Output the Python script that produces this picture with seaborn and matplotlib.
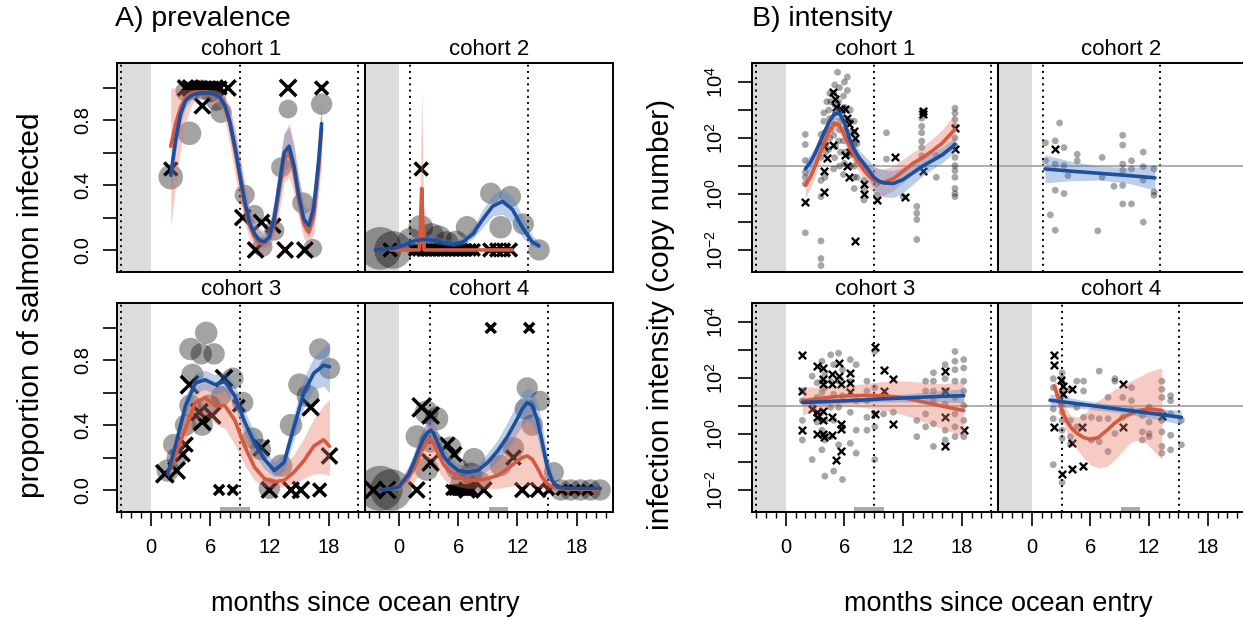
import numpy as np
import pandas as pd
import matplotlib
matplotlib.use("Agg")
import matplotlib.pyplot as plt
from matplotlib.ticker import FixedLocator, NullFormatter
import seaborn as sns

sns.set_theme(style="white")
plt.rcParams["font.family"] = ["Liberation Sans", "DejaVu Sans"]
plt.rcParams["mathtext.default"] = "regular"
for key in ("text.color", "axes.labelcolor", "xtick.color", "ytick.color", "axes.edgecolor"):
    plt.rcParams[key] = "black"

BLUE = "#1c4f9e"
RED = "#d65a3f"
BLUE_FILL = "#4f7fc6"
RED_FILL = "#e57865"

# ---------------------------------------------------------------- prevalence
# cohort 1 : field samples (circles, n = fish sampled) and lab samples (crosses)
prev_c1_fx = [2.0, 3.9, 3.5, 4.3, 5.2, 6.0, 6.6, 7.1, 9.5, 10.5, 11.3, 12.5, 13.2, 13.9, 15.4, 16.4, 17.3]
prev_c1_fy = [0.45, 0.72, 0.98, 0.99, 0.99, 0.97, 0.92, 0.85, 0.34, 0.22, 0.02, 0.12, 0.51, 0.87, 0.29, 0.01, 0.90]
prev_c1_fn = [12, 11, 8, 7, 8, 7, 8, 9, 8, 7, 8, 8, 8, 7, 9, 7, 9]
prev_c1_lx = [2.0, 3.5, 4.0, 4.6, 5.0, 5.4, 5.8, 6.2, 6.6, 7.0, 7.8, 5.2, 9.3, 11.2, 12.4, 10.6, 13.6, 15.6, 13.9, 17.3]
prev_c1_ly = [0.50, 1.0, 1.0, 1.0, 1.0, 1.0, 1.0, 1.0, 1.0, 1.0, 1.0, 0.89, 0.20, 0.17, 0.15, 0.0, 0.0, 0.0, 1.0, 1.0]
prev_c1_ln = [5, 7, 7, 5, 5, 5, 5, 5, 5, 5, 7, 7, 7, 7, 6, 7, 7, 7, 8, 5]
prev_c1_t = [2.0, 2.5, 3.0, 3.5, 4.0, 4.5, 5.0, 5.5, 6.0, 6.5, 7.0, 7.5, 8.0, 8.5, 9.0, 9.5,
             10.0, 10.5, 11.0, 11.5, 12.0, 12.5, 13.0, 13.5, 14.0, 14.5, 15.0, 15.5, 16.0, 16.5, 17.0, 17.3]
prev_c1_blue = [0.46, 0.68, 0.84, 0.92, 0.95, 0.965, 0.97, 0.97, 0.97, 0.96, 0.94, 0.89, 0.79, 0.64, 0.47, 0.30,
                0.17, 0.10, 0.06, 0.05, 0.08, 0.20, 0.40, 0.60, 0.64, 0.52, 0.33, 0.19, 0.15, 0.26, 0.55, 0.78]
prev_c1_blue_lo = [0.36, 0.60, 0.78, 0.88, 0.92, 0.94, 0.95, 0.95, 0.95, 0.94, 0.91, 0.85, 0.72, 0.56, 0.39, 0.23,
                   0.11, 0.05, 0.02, 0.015, 0.03, 0.12, 0.30, 0.48, 0.53, 0.42, 0.24, 0.12, 0.08, 0.16, 0.42, 0.65]
prev_c1_blue_hi = [0.57, 0.76, 0.89, 0.95, 0.975, 0.985, 0.99, 0.99, 0.99, 0.98, 0.97, 0.93, 0.86, 0.72, 0.56, 0.38,
                   0.25, 0.17, 0.12, 0.10, 0.15, 0.30, 0.52, 0.72, 0.76, 0.63, 0.43, 0.28, 0.24, 0.38, 0.68, 0.90]
prev_c1_red = [0.64, 0.78, 0.88, 0.94, 0.965, 0.975, 0.975, 0.975, 0.97, 0.96, 0.94, 0.89, 0.78, 0.62, 0.45, 0.28,
               0.15, 0.08, 0.045, 0.04, 0.07, 0.18, 0.37, 0.56, 0.60, 0.49, 0.30, 0.16, 0.11, 0.21, 0.50, 0.75]
prev_c1_red_lo = [0.14, 0.40, 0.62, 0.78, 0.88, 0.93, 0.94, 0.94, 0.93, 0.91, 0.88, 0.80, 0.65, 0.47, 0.31, 0.17,
                  0.07, 0.02, 0.0, 0.0, 0.01, 0.08, 0.24, 0.42, 0.45, 0.35, 0.19, 0.07, 0.03, 0.10, 0.35, 0.55]
prev_c1_red_hi = [1.0, 1.0, 0.99, 0.99, 0.99, 0.99, 0.99, 0.99, 0.99, 0.99, 0.98, 0.95, 0.88, 0.76, 0.60, 0.42,
                  0.27, 0.18, 0.13, 0.12, 0.16, 0.30, 0.52, 0.72, 0.78, 0.66, 0.45, 0.30, 0.26, 0.36, 0.70, 0.92]

# cohort 2
prev_c2_fx = [-1.9, -0.6, 1.1, 2.2, 3.3, 4.0, 4.8, 5.8, 6.9, 9.3, 10.3, 11.3, 12.6, 14.2]
prev_c2_fy = [0.01, 0.0, 0.06, 0.14, 0.09, 0.07, 0.04, 0.05, 0.14, 0.35, 0.14, 0.33, 0.16, 0.0]
prev_c2_fn = [36, 28, 12, 12, 12, 14, 12, 10, 10, 9, 10, 9, 9, 9]
prev_c2_lx = [-0.9, 1.6, 2.0, 2.4, 2.8, 3.2, 3.6, 4.0, 4.4, 4.8, 5.2, 5.6, 6.0, 6.4, 6.8, 7.2, 7.6,
              9.2, 9.9, 10.6, 11.3, 2.25]
prev_c2_ly = [0.0] * 21 + [0.5]
prev_c2_ln = [5, 4, 4, 4, 4, 4, 4, 4, 4, 4, 4, 4, 4, 4, 4, 4, 4, 5, 5, 5, 5, 5]
prev_c2_bt = [-2.4, -1.5, -0.5, 0.5, 1.5, 2.5, 3.5, 4.5, 5.5, 6.5, 7.5, 8.5, 9.5, 10.5, 11.5, 12.5, 13.5, 14.2]
prev_c2_blue = [0.0, 0.005, 0.01, 0.03, 0.055, 0.065, 0.06, 0.045, 0.035, 0.05, 0.10, 0.19, 0.27, 0.30, 0.25,
                0.14, 0.05, 0.025]
prev_c2_blue_lo = [0.0, 0.0, 0.0, 0.01, 0.03, 0.04, 0.04, 0.03, 0.02, 0.03, 0.07, 0.14, 0.21, 0.22, 0.17, 0.08,
                   0.02, 0.01]
prev_c2_blue_hi = [0.01, 0.015, 0.03, 0.06, 0.09, 0.10, 0.09, 0.07, 0.06, 0.08, 0.14, 0.25, 0.34, 0.38, 0.33,
                   0.21, 0.09, 0.05]
prev_c2_rt = [-0.9, 2.05, 2.2, 2.3, 2.4, 2.55, 11.5]
prev_c2_red = [0.0, 0.0, 0.2, 0.38, 0.2, 0.0, 0.0]
prev_c2_red_lo = [0.0, 0.0, 0.0, 0.0, 0.0, 0.0, 0.0]
prev_c2_red_hi = [0.01, 0.01, 0.6, 1.0, 0.6, 0.01, 0.01]

# cohort 3
prev_c3_fx = [1.7, 2.3, 2.6, 3.5, 4.0, 5.6, 6.4, 5.1, 4.2, 4.0, 5.9, 5.2, 7.1, 8.3, 9.3, 10.3, 11.1, 12.0,
              13.2, 14.2, 15.05, 15.9, 17.1, 18.1]
prev_c3_fy = [0.12, 0.28, 0.20, 0.40, 0.87, 0.97, 0.84, 0.84, 0.71, 0.52, 0.52, 0.40, 0.58, 0.69, 0.54, 0.32,
              0.25, 0.01, 0.15, 0.40, 0.65, 0.58, 0.87, 0.75]
prev_c3_fn = [10, 9, 8, 9, 10, 10, 9, 9, 10, 10, 10, 9, 8, 9, 9, 9, 9, 9, 10, 10, 10, 10, 9, 9]
prev_c3_lx = [1.4, 2.6, 3.9, 3.5, 3.2, 4.9, 5.2, 6.2, 7.4, 8.9, 11.2, 12.0, 14.2, 15.2, 17.1, 16.2, 18.1, 6.9, 8.3]
prev_c3_ly = [0.10, 0.12, 0.65, 0.28, 0.22, 0.48, 0.42, 0.46, 0.69, 0.52, 0.26, 0.0, 0.0, 0.0, 0.0, 0.51, 0.21,
              0.0, 0.0]
prev_c3_ln = [9, 8, 9, 6, 6, 8, 8, 8, 8, 4, 7, 7, 7, 8, 5, 8, 7, 3, 3]
prev_c3_t = [1.7, 2.5, 3.5, 4.5, 5.5, 6.5, 7.5, 8.5, 9.5, 10.5, 11.5, 12.5, 13.5, 14.5, 15.5, 16.5, 17.5, 18.1]
prev_c3_blue = [0.10, 0.28, 0.52, 0.66, 0.68, 0.65, 0.67, 0.58, 0.42, 0.29, 0.19, 0.12, 0.17, 0.39, 0.60,
                0.72, 0.77, 0.76]
prev_c3_blue_lo = [0.07, 0.23, 0.46, 0.60, 0.62, 0.59, 0.61, 0.51, 0.35, 0.22, 0.13, 0.08, 0.12, 0.31, 0.51,
                   0.62, 0.64, 0.60]
prev_c3_blue_hi = [0.14, 0.33, 0.58, 0.72, 0.74, 0.71, 0.73, 0.65, 0.49, 0.35, 0.25, 0.17, 0.23, 0.47, 0.69,
                   0.82, 0.88, 0.91]
prev_c3_red = [0.10, 0.22, 0.38, 0.54, 0.57, 0.52, 0.52, 0.43, 0.27, 0.14, 0.07, 0.05, 0.06, 0.11, 0.18, 0.27,
               0.31, 0.27]
prev_c3_red_lo = [0.07, 0.16, 0.29, 0.43, 0.46, 0.41, 0.38, 0.28, 0.15, 0.06, 0.02, 0.01, 0.02, 0.04, 0.07,
                  0.10, 0.10, 0.09]
prev_c3_red_hi = [0.14, 0.29, 0.47, 0.64, 0.67, 0.63, 0.64, 0.57, 0.41, 0.27, 0.17, 0.13, 0.15, 0.22, 0.32,
                  0.44, 0.52, 0.56]

# cohort 4
prev_c4_fx = [-1.9, -0.8, 1.8, 2.8, 3.8, 2.8, 3.2, 5.2, 5.9, 6.5, 7.3, 7.6, 8.2, 10.3, 11.6, 13.0, 12.8, 14.3,
              13.5, 15.7, 16.4, 17.4, 18.4, 19.4, 20.4]
prev_c4_fy = [0.01, 0.0, 0.33, 0.48, 0.44, 0.13, 0.30, 0.26, 0.13, 0.05, 0.10, 0.19, 0.05, 0.15, 0.26, 0.63,
              0.50, 0.55, 0.40, 0.11, 0.0, 0.0, 0.0, 0.0, 0.0]
prev_c4_fn = [40, 34, 10, 11, 11, 11, 10, 10, 10, 12, 10, 10, 9, 9, 9, 9, 9, 8, 9, 8, 9, 9, 9, 9, 9]
prev_c4_lx = [2.3, 3.2, -2.6, -1.2, 1.8, 3.2, 4.9, 5.6, 5.3, 5.6, 5.9, 6.2, 6.5, 6.8, 7.1, 7.4, 6.9, 8.6,
              11.6, 12.5, 14.1, 9.3, 13.2, 15.2, 16.5, 17.8, 19.1]
prev_c4_ly = [0.51, 0.46, 0.0, 0.0, 0.0, 0.17, 0.28, 0.22, 0.0, 0.0, 0.0, 0.0, 0.0, 0.0, 0.0, 0.0, 0.0, 0.0,
              0.20, 0.0, 0.0, 1.0, 1.0, 0.0, 0.0, 0.0, 0.0]
prev_c4_ln = [10, 8, 8, 8, 7, 8, 6, 6, 3, 3, 3, 3, 3, 3, 3, 3, 7, 7, 6, 6, 6, 3, 3, 3, 3, 3, 3]
prev_c4_t = [-1.9, -1.0, 0.0, 1.0, 1.5, 2.0, 2.5, 3.0, 3.2, 3.5, 4.0, 4.5, 5.0, 6.0, 7.0, 8.0, 9.0, 10.0,
             11.0, 12.0, 12.5, 13.0, 13.5, 14.0, 14.5, 15.0, 15.5, 16.0, 17.0, 18.0, 19.0, 20.4]
prev_c4_blue = [0.0, 0.005, 0.02, 0.10, 0.17, 0.25, 0.32, 0.36, 0.37, 0.35, 0.28, 0.21, 0.17, 0.12, 0.11, 0.12,
                0.17, 0.24, 0.33, 0.44, 0.50, 0.54, 0.52, 0.44, 0.30, 0.15, 0.06, 0.02, 0.01, 0.01, 0.01, 0.01]
prev_c4_blue_lo = [0.0, 0.0, 0.01, 0.06, 0.12, 0.19, 0.25, 0.29, 0.30, 0.28, 0.22, 0.16, 0.13, 0.09, 0.08, 0.09,
                   0.12, 0.18, 0.25, 0.35, 0.40, 0.43, 0.41, 0.33, 0.21, 0.09, 0.03, 0.01, 0.0, 0.0, 0.0, 0.0]
prev_c4_blue_hi = [0.01, 0.02, 0.04, 0.15, 0.23, 0.32, 0.39, 0.44, 0.45, 0.43, 0.35, 0.27, 0.22, 0.16, 0.15,
                   0.16, 0.23, 0.31, 0.42, 0.54, 0.60, 0.63, 0.62, 0.55, 0.41, 0.23, 0.11, 0.04, 0.02, 0.02,
                   0.02, 0.02]
prev_c4_red = [0.0, 0.005, 0.02, 0.08, 0.13, 0.20, 0.27, 0.31, 0.31, 0.29, 0.22, 0.16, 0.12, 0.08, 0.06, 0.06,
               0.07, 0.09, 0.13, 0.18, 0.20, 0.21, 0.19, 0.14, 0.08, 0.04, 0.02, 0.01, 0.005, 0.005, 0.005, 0.005]
prev_c4_red_lo = [0.0, 0.0, 0.0, 0.02, 0.05, 0.09, 0.15, 0.19, 0.20, 0.18, 0.12, 0.07, 0.04, 0.02, 0.01, 0.01,
                  0.01, 0.01, 0.02, 0.03, 0.03, 0.03, 0.03, 0.02, 0.01, 0.0, 0.0, 0.0, 0.0, 0.0, 0.0, 0.0]
prev_c4_red_hi = [0.01, 0.02, 0.06, 0.15, 0.22, 0.30, 0.38, 0.42, 0.43, 0.41, 0.34, 0.26, 0.21, 0.16, 0.14,
                  0.15, 0.20, 0.27, 0.35, 0.42, 0.44, 0.44, 0.42, 0.36, 0.25, 0.13, 0.06, 0.03, 0.02, 0.02,
                  0.02, 0.02]

# ----------------------------------------------------------------- intensity
# values are log10(copy number)
int_c1_fx = ([2.0] * 7 + [3.6] * 7 + [3.9, 4.0, 4.1, 3.9, 4.1, 4.0, 4.2] + [4.4, 4.5, 4.6, 4.5, 4.4, 4.6, 4.5]
             + [4.9, 5.0, 5.1, 5.0, 4.9, 5.1, 5.0, 4.9, 5.0, 5.3] + [5.4, 5.5, 5.6, 5.5, 5.4, 5.6, 5.5, 5.5]
             + [5.9, 6.0, 6.1, 6.0, 5.9, 6.1, 6.0, 5.9, 6.0] + [6.3, 6.3] + [6.6] * 6 + [7.0] * 7 + [7.3] * 3
             + [8.0] * 4 + [9.3] * 2 + [10.3] * 2 + [12.0] + [13.4] * 4 + [13.9] * 7 + [15.4] * 2 + [17.3] * 13)
int_c1_fy = ([2.13, 1.77, 1.2, 0.78, 0.6, 0.37, -1.38] + [-1.67, -2.3, -2.55, 2.13, 1.31, 0.49, -0.09]
             + [2.6, 2.2, 1.8, 2.9, 1.5, 0.6, 3.3] + [3.0, 2.7, 2.3, 2.0, 1.6, 3.3, 3.6]
             + [3.6, 3.2, 2.9, 2.5, 2.1, 1.7, 1.3, 0.9, 3.9, 4.35] + [3.3, 3.0, 2.6, 2.3, 1.9, 1.5, 1.0, 3.8]
             + [3.5, 3.1, 2.7, 2.3, 1.9, 1.5, 1.1, 0.7, 4.0] + [4.18, 3.7] + [3.0, 2.6, 2.2, 1.8, 1.4, 1.0]
             + [2.6, 2.2, 1.8, 1.4, 1.0, 0.6, 0.2] + [1.8, 1.2, 0.6] + [0.96, 0.49, 0.2, -0.21] + [0.37, -0.04]
             + [2.19, 1.25] + [-0.09] + [-0.44, -0.68, -0.91, -1.62] + [2.95, 2.71, 2.42, 2.19, 1.89, 1.66, 1.37]
             + [1.37, 0.6] + [3.07, 2.89, 2.66, 2.42, 2.01, 1.72, 1.31, 1.02, 0.84, 0.6, 0.2, 0.02, -0.09])
int_c1_lx = [2.0, 3.9, 3.9, 4.8, 5.0, 5.1, 5.6, 6.1, 6.3, 6.5, 7.0, 7.1, 6.6, 6.1, 6.3, 6.5, 3.9, 4.25, 4.8,
             7.1, 8.0, 8.0, 9.3, 11.2, 12.2, 14.0, 14.0, 14.0, 17.3, 17.3]
int_c1_ly = [-0.27, 1.72, 0.08, 3.65, 3.4, 3.1, 3.05, 3.05, 2.7, 2.5, 2.25, 2.0, 1.5, 1.4, 1.0, 0.6, 0.84, 1.3,
             1.77, -1.67, 0.37, 0.02, -0.21, 1.31, -0.09, 2.95, 2.85, 0.84, 2.36, 1.6]
int_c1_t = [2.0, 2.5, 3.0, 3.5, 4.0, 4.5, 5.0, 5.5, 6.0, 6.5, 7.0, 7.5, 8.0, 8.5, 9.0, 9.5, 10.0, 11.0, 12.0,
            13.0, 14.0, 15.0, 16.0, 17.0, 17.3]
int_c1_blue = [0.90, 1.12, 1.45, 1.85, 2.25, 2.62, 2.87, 2.88, 2.55, 2.0, 1.6, 1.3, 1.08, 0.85, 0.6, 0.47, 0.4,
               0.38, 0.52, 0.76, 1.0, 1.2, 1.4, 1.68, 1.78]
int_c1_blue_lo = [0.55, 0.85, 1.2, 1.62, 2.05, 2.42, 2.67, 2.66, 2.3, 1.75, 1.35, 1.03, 0.78, 0.5, 0.2, 0.0,
                  -0.1, -0.12, 0.05, 0.35, 0.65, 0.9, 1.12, 1.42, 1.5]
int_c1_blue_hi = [1.25, 1.4, 1.7, 2.08, 2.45, 2.82, 3.07, 3.1, 2.8, 2.25, 1.85, 1.57, 1.38, 1.2, 1.0, 0.92, 0.88,
                  0.85, 0.95, 1.15, 1.35, 1.5, 1.68, 1.94, 2.05]
int_c1_red = [0.32, 0.6, 1.0, 1.45, 1.9, 2.3, 2.53, 2.45, 2.1, 1.72, 1.4, 1.1, 0.85, 0.65, 0.5, 0.42, 0.42, 0.55,
              0.82, 1.1, 1.3, 1.55, 1.82, 2.2, 2.3]
int_c1_red_lo = [-0.15, 0.2, 0.65, 1.15, 1.62, 2.03, 2.27, 2.17, 1.8, 1.42, 1.1, 0.8, 0.5, 0.25, 0.05, -0.05,
                 -0.05, 0.12, 0.42, 0.72, 0.95, 1.15, 1.38, 1.68, 1.75]
int_c1_red_hi = [0.8, 1.0, 1.35, 1.75, 2.18, 2.57, 2.8, 2.73, 2.4, 2.02, 1.7, 1.4, 1.2, 1.05, 0.95, 0.9, 0.9, 1.0,
                 1.25, 1.5, 1.7, 1.98, 2.3, 2.75, 2.9]

int_c2_fx = [1.4, 1.4, 1.9, 2.4, 2.4, 2.4, 2.4, 2.85, 3.3, 3.3, 3.3, 3.7, 4.65, 4.65, 6.75, 7.2, 7.2, 8.4, 9.3,
             9.3, 9.3, 9.3, 9.3, 9.3, 10.2, 10.2, 10.2, 11.4, 11.4, 11.4, 11.4, 12.5, 12.5, 12.5]
int_c2_fy = [1.83, 1.19, -0.74, 1.9, 1.07, 0.14, -1.29, 2.54, 1.66, 1.02, 0.02, 0.66, 1.42, 1.19, -1.31, 1.31,
             0.6, 0.28, 2.1, 1.75, 1.07, 0.84, 0.31, -0.35, 1.19, 0.9, -0.35, 1.5, 0.98, 0.5, -1.0, 0.9, 0.08,
             -0.04]
int_c2_lx = [2.4]
int_c2_ly = [1.6]
int_c2_t = [1.35, 4.0, 7.0, 10.0, 12.6]
int_c2_blue = [0.90, 0.82, 0.74, 0.66, 0.58]
int_c2_blue_lo = [0.40, 0.48, 0.50, 0.38, 0.14]
int_c2_blue_hi = [1.40, 1.17, 1.00, 0.95, 1.02]

int_c3_fx = ([1.7] * 4 + [2.7] * 3 + [3.2] * 3 + [3.7] * 6 + [4.0] * 6 + [4.6] * 4 + [4.9] * 4 + [5.4] * 4
             + [5.8] * 4 + [6.6] * 4 + [7.2] * 4 + [8.3] * 5 + [9.1] * 5 + [10.0] + [11.0] + [13.4] * 2
             + [14.3] * 4 + [15.1] * 6 + [16.3] * 6 + [17.3] * 8 + [18.2] * 7)
int_c3_fy = ([1.54, 1.19, 0.49, -0.21] + [2.07, 1.02, -0.91] + [1.83, 1.31, 0.43]
             + [2.6, 1.89, 1.49, 0.78, 0.14, -0.56] + [2.13, 1.66, 1.19, 0.49, -0.21, -1.5]
             + [2.83, 1.89, 0.96, -0.09] + [2.48, 1.42, 0.49, -1.32] + [2.89, 1.89, 0.96, -0.38]
             + [2.3, 1.37, 0.26, -1.62] + [2.66, 1.89, 0.78, -0.33] + [2.48, 1.19, 0.14, -0.68]
             + [1.89, 1.54, 1.19, 0.6, 0.14] + [2.95, 1.66, 0.72, 0.26, -0.91] + [0.72] + [0.78]
             + [0.49, -0.09] + [1.89, 1.54, 0.72, 0.26] + [2.19, 1.89, 1.54, 1.19, 0.37, -0.44]
             + [2.48, 1.98, 1.54, 1.07, 0.14, -0.21] + [2.95, 2.6, 2.3, 1.89, 1.31, 0.72, 0.26, -0.09]
             + [2.66, 2.36, 1.89, 1.54, 1.02, 0.49, -0.09])
int_c3_lx = [1.7, 1.7, 1.7, 2.7, 3.2, 3.2, 3.2, 3.2, 3.8, 3.8, 3.8, 3.8, 3.8, 3.8, 3.9, 4.7, 4.7, 4.7, 4.7,
             5.4, 5.4, 5.6, 5.6, 5.6, 5.6, 5.1, 6.6, 6.6, 6.6, 9.1, 9.1, 10.0, 10.0, 11.0, 11.0, 16.3, 16.3,
             16.3, 16.3, 18.2]
int_c3_ly = [2.83, 1.54, 0.14, 0.9, 2.42, 0.78, 0.6, 0.02, 2.36, 1.98, 1.78, 0.84, 0.49, 0.02, -0.09, 2.13,
             1.78, 0.6, -0.04, 2.54, 2.07, 1.78, 0.37, 0.2, -0.62, -0.91, 2.19, 1.83, 1.49, 3.12, 0.72, 2.3,
             1.54, 1.98, 0.37, 2.25, 1.54, 0.6, -0.44, 0.14]
int_c3_t = [1.7, 4.0, 6.0, 8.0, 10.0, 12.0, 14.0, 16.0, 18.2]
int_c3_blue = [1.13, 1.16, 1.19, 1.22, 1.26, 1.29, 1.32, 1.35, 1.37]
int_c3_blue_lo = [1.02, 1.06, 1.10, 1.13, 1.15, 1.15, 1.15, 1.14, 1.12]
int_c3_blue_hi = [1.24, 1.26, 1.28, 1.31, 1.37, 1.43, 1.49, 1.56, 1.62]
int_c3_red = [1.19, 1.30, 1.36, 1.38, 1.37, 1.30, 1.15, 1.0, 0.84]
int_c3_red_lo = [0.68, 0.95, 1.0, 0.95, 0.85, 0.7, 0.45, 0.2, -0.1]
int_c3_red_hi = [1.7, 1.65, 1.72, 1.8, 1.88, 1.9, 1.85, 1.8, 1.88]

int_c4_fx = ([2.2] * 5 + [3.1] * 11 + [3.95] * 4 + [4.6] * 3 + [5.3] * 3 + [6.1] * 2 + [6.9] * 3 + [7.8] * 3
             + [8.5] * 3 + [9.3] * 2 + [10.2] * 3 + [11.3] * 3 + [12.0] * 4 + [13.3] * 8 + [14.2] * 5
             + [15.3] * 2)
int_c4_fy = ([1.98, 1.66, 0.9, 0.55, -1.09] + [2.19, 1.98, 1.83, 1.54, 1.37, 1.07, 0.78, 0.49, 0.14, -0.15, -1.73]
             + [1.6, 0.49, -0.09, -0.35] + [1.89, 0.96, 0.26] + [1.89, 1.54, 0.6] + [0.6, -0.21]
             + [2.25, 0.55, -0.27] + [1.31, 0.55, -0.62] + [1.98, 1.89, 0.02] + [1.31, 0.6] + [1.66, 1.19, 0.84]
             + [0.66, 0.08, -0.21] + [0.96, 0.43, 0.02, -0.09] + [1.89, 1.6, 1.31, 0.78, 0.49, 0.08, -0.44, -0.68]
             + [1.37, 1.19, 0.72, -0.04, -0.56] + [0.49, -0.38])
int_c4_lx = [2.3, 2.3, 2.3, 3.0, 3.2, 3.2, 3.1, 4.1, 4.1, 4.1, 5.1, 5.2, 9.3, 9.3, 13.3]
int_c4_ly = [2.83, 2.48, 0.26, 1.92, 1.7, 1.42, -1.44, 1.6, -0.33, -1.26, 0.26, -1.15, 1.78, 0.26, 0.66]
int_c4_bt = [1.87, 5.0, 8.5, 12.0, 15.3]
int_c4_blue = [1.21, 1.07, 0.91, 0.75, 0.6]
int_c4_blue_lo = [0.98, 0.92, 0.79, 0.58, 0.35]
int_c4_blue_hi = [1.44, 1.22, 1.04, 0.93, 0.84]
int_c4_rt = [2.3, 2.7, 3.1, 3.6, 4.1, 4.65, 5.3, 6.0, 6.8, 7.7, 8.5, 9.3, 10.1, 11.0, 11.8, 12.6, 13.3]
int_c4_red = [1.72, 1.3, 0.84, 0.45, 0.2, 0.02, -0.12, -0.19, -0.12, 0.14, 0.4, 0.6, 0.72, 0.84, 0.9, 0.88, 0.84]
int_c4_red_lo = [1.45, 1.0, 0.5, 0.05, -0.3, -0.55, -0.85, -1.1, -1.2, -1.15, -0.9, -0.6, -0.3, -0.2, -0.35,
                 -0.65, -0.9]
int_c4_red_hi = [2.0, 1.65, 1.2, 0.85, 0.65, 0.6, 0.7, 0.95, 1.2, 1.4, 1.6, 1.75, 1.9, 2.05, 2.2, 2.3, 2.36]

# marine-phase boundaries (dotted) and sampling windows (grey bars) per cohort
boundaries = {1: [-3, 9, 21], 2: [1.1, 13.1], 3: [-3, 9, 21], 4: [3.1, 15.1]}
windows = {3: (7.0, 10.0), 4: (9.1, 11.1)}

prev_tick_vals = [0.0, 0.2, 0.4, 0.6, 0.8, 1.0]
prev_tick_labels = ["0.0", "", "0.4", "", "0.8", ""]
int_tick_exp = [-2, -1, 0, 1, 2, 3, 4]
month_major = [0, 6, 12, 18]
XLIM = (-3.45, 21.7)
PREV_YLIM = (-0.136, 1.154)
INT_YLIM = (10 ** -2.78, 10 ** 4.68)

W, H = 1243, 625
fig = plt.figure(figsize=(W / 100, H / 100), dpi=100)


def axes_at(l, r, t, b):
    return fig.add_axes([l / W, 1 - b / H, (r - l) / W, (b - t) / H])


def curve(ax, t, mid, lo, hi, fill, line, log=False):
    f = (lambda v: 10 ** np.asarray(v)) if log else np.asarray
    ax.fill_between(t, f(lo), f(hi), color=fill, alpha=0.38, lw=0, zorder=4)
    df = pd.DataFrame({"t": t, "v": f(mid)})
    sns.lineplot(data=df, x="t", y="v", ax=ax, color=line, lw=2.6, sort=False,
                 estimator=None, zorder=6)


def frame(ax, cohort, log):
    ax.set_xlim(*XLIM)
    ax.axvspan(XLIM[0], 0, color="#dcdcdc", lw=0, zorder=0)
    for b in boundaries[cohort]:
        ax.axvline(b, color="black", lw=1.4, ls=(0, (1, 2.2)), zorder=1)
    if cohort in windows:
        ax.axvspan(*windows[cohort], ymin=0, ymax=0.026, color="#aaaaaa", lw=0, zorder=1)
    if log:
        ax.set_yscale("log")
        ax.set_ylim(*INT_YLIM)
        ax.axhline(10.0, color="#9a9a9a", lw=1.1, zorder=1)
    else:
        ax.set_ylim(*PREV_YLIM)


def decorate(ax, cohort, log):
    ax.set_xlim(*XLIM)
    ax.set_ylim(*(INT_YLIM if log else PREV_YLIM))
    for s in ax.spines.values():
        s.set_visible(True)
        s.set_color("black")
        s.set_linewidth(1.4)
    ax.set_xlabel("")
    ax.set_ylabel("")
    ax.text(0.5, 1.012, f"cohort {cohort}", transform=ax.transAxes, ha="center", va="bottom",
            fontsize=16)
    row_bottom = cohort in (3, 4)
    left_col = cohort in (1, 3)
    if row_bottom:
        ax.xaxis.set_major_locator(FixedLocator(month_major))
        ax.xaxis.set_minor_locator(FixedLocator(list(range(-3, 22))))
        ax.xaxis.set_minor_formatter(NullFormatter())
        ax.tick_params(axis="x", which="major", direction="out", length=10, width=1.2,
                       labelsize=14.5, pad=9, bottom=True, colors="black")
        ax.tick_params(axis="x", which="minor", direction="out", length=4.5, width=1.0, bottom=True,
                       colors="black")
    else:
        ax.set_xticks([])
        ax.xaxis.set_minor_locator(FixedLocator([]))
    if left_col:
        if log:
            ax.yaxis.set_major_locator(FixedLocator([10.0 ** e for e in int_tick_exp]))
            ax.set_yticklabels([f"$10^{{{e}}}$" if e % 2 == 0 else "" for e in int_tick_exp])
            ax.yaxis.set_minor_locator(FixedLocator([]))
        else:
            ax.set_yticks(prev_tick_vals)
            ax.set_yticklabels(prev_tick_labels)
        ax.tick_params(axis="y", which="major", direction="out", length=10, width=1.2,
                       labelsize=14.5, pad=8, left=True, colors="black")
        for lab in ax.get_yticklabels():
            lab.set_rotation(90)
            lab.set_va("center")
    else:
        ax.set_yticks([])
        ax.yaxis.set_minor_locator(FixedLocator([]))


def prevalence(ax, cohort, fx, fy, fn, lx, ly, ln, bands):
    frame(ax, cohort, log=False)
    sns.scatterplot(data=pd.DataFrame({"x": fx, "y": fy, "n": fn}), x="x", y="y", size="n",
                    sizes=(0, 1050), size_norm=(0, 40), color="black", alpha=0.36,
                    edgecolor="none", legend=False, ax=ax, zorder=2)
    sns.scatterplot(data=pd.DataFrame({"x": lx, "y": ly, "n": ln}), x="x", y="y", size="n",
                    sizes=(0, 175), size_norm=(0, 10), color="black", marker="x", linewidth=2.5,
                    legend=False, ax=ax, zorder=3)
    for b in bands:
        curve(ax, *b)
    decorate(ax, cohort, log=False)


def intensity(ax, cohort, fx, fy, lx, ly, bands):
    frame(ax, cohort, log=True)
    sns.scatterplot(x=np.asarray(fx), y=10 ** np.asarray(fy), color="black", alpha=0.35, s=24,
                    edgecolor="none", legend=False, ax=ax, zorder=2)
    sns.scatterplot(x=np.asarray(lx), y=10 ** np.asarray(ly), color="black", marker="x", s=28,
                    linewidth=1.7, legend=False, ax=ax, zorder=3)
    for b in bands:
        curve(ax, *b, log=True)
    decorate(ax, cohort, log=True)


colsA = [(117, 365), (365, 613)]
colsB = [(752, 998), (998, 1244)]
rows = [(63, 272), (303, 512)]

a1 = axes_at(*colsA[0], *rows[0])
a2 = axes_at(*colsA[1], *rows[0])
a3 = axes_at(*colsA[0], *rows[1])
a4 = axes_at(*colsA[1], *rows[1])
b1 = axes_at(*colsB[0], *rows[0])
b2 = axes_at(*colsB[1], *rows[0])
b3 = axes_at(*colsB[0], *rows[1])
b4 = axes_at(*colsB[1], *rows[1])

prevalence(a1, 1, prev_c1_fx, prev_c1_fy, prev_c1_fn, prev_c1_lx, prev_c1_ly, prev_c1_ln, [
    (prev_c1_t, prev_c1_red, prev_c1_red_lo, prev_c1_red_hi, RED_FILL, RED),
    (prev_c1_t, prev_c1_blue, prev_c1_blue_lo, prev_c1_blue_hi, BLUE_FILL, BLUE)])
prevalence(a2, 2, prev_c2_fx, prev_c2_fy, prev_c2_fn, prev_c2_lx, prev_c2_ly, prev_c2_ln, [
    (prev_c2_rt, prev_c2_red, prev_c2_red_lo, prev_c2_red_hi, RED_FILL, RED),
    (prev_c2_bt, prev_c2_blue, prev_c2_blue_lo, prev_c2_blue_hi, BLUE_FILL, BLUE)])
prevalence(a3, 3, prev_c3_fx, prev_c3_fy, prev_c3_fn, prev_c3_lx, prev_c3_ly, prev_c3_ln, [
    (prev_c3_t, prev_c3_red, prev_c3_red_lo, prev_c3_red_hi, RED_FILL, RED),
    (prev_c3_t, prev_c3_blue, prev_c3_blue_lo, prev_c3_blue_hi, BLUE_FILL, BLUE)])
prevalence(a4, 4, prev_c4_fx, prev_c4_fy, prev_c4_fn, prev_c4_lx, prev_c4_ly, prev_c4_ln, [
    (prev_c4_t, prev_c4_red, prev_c4_red_lo, prev_c4_red_hi, RED_FILL, RED),
    (prev_c4_t, prev_c4_blue, prev_c4_blue_lo, prev_c4_blue_hi, BLUE_FILL, BLUE)])

intensity(b1, 1, int_c1_fx, int_c1_fy, int_c1_lx, int_c1_ly, [
    (int_c1_t, int_c1_red, int_c1_red_lo, int_c1_red_hi, RED_FILL, RED),
    (int_c1_t, int_c1_blue, int_c1_blue_lo, int_c1_blue_hi, BLUE_FILL, BLUE)])
intensity(b2, 2, int_c2_fx, int_c2_fy, int_c2_lx, int_c2_ly, [
    (int_c2_t, int_c2_blue, int_c2_blue_lo, int_c2_blue_hi, BLUE_FILL, BLUE)])
intensity(b3, 3, int_c3_fx, int_c3_fy, int_c3_lx, int_c3_ly, [
    (int_c3_t, int_c3_red, int_c3_red_lo, int_c3_red_hi, RED_FILL, RED),
    (int_c3_t, int_c3_blue, int_c3_blue_lo, int_c3_blue_hi, BLUE_FILL, BLUE)])
intensity(b4, 4, int_c4_fx, int_c4_fy, int_c4_lx, int_c4_ly, [
    (int_c4_rt, int_c4_red, int_c4_red_lo, int_c4_red_hi, RED_FILL, RED),
    (int_c4_bt, int_c4_blue, int_c4_blue_lo, int_c4_blue_hi, BLUE_FILL, BLUE)])

fig.text(115 / W, 1 - 19 / H, "A) prevalence", ha="left", va="center", fontsize=20.5)
fig.text(752 / W, 1 - 19 / H, "B) intensity", ha="left", va="center", fontsize=20.5)
fig.text(31 / W, 1 - 305 / H, "proportion of salmon infected", rotation=90, ha="center", va="center",
         fontsize=21.5)
fig.text(661 / W, 1 - 314 / H, "infection intensity (copy number)", rotation=90, ha="center",
         va="center", fontsize=21.5)
fig.text(365 / W, 1 - 604 / H, "months since ocean entry", ha="center", va="center", fontsize=19.5)
fig.text(998 / W, 1 - 604 / H, "months since ocean entry", ha="center", va="center", fontsize=19.5)

fig.savefig("out.png", dpi=100, facecolor="white")
